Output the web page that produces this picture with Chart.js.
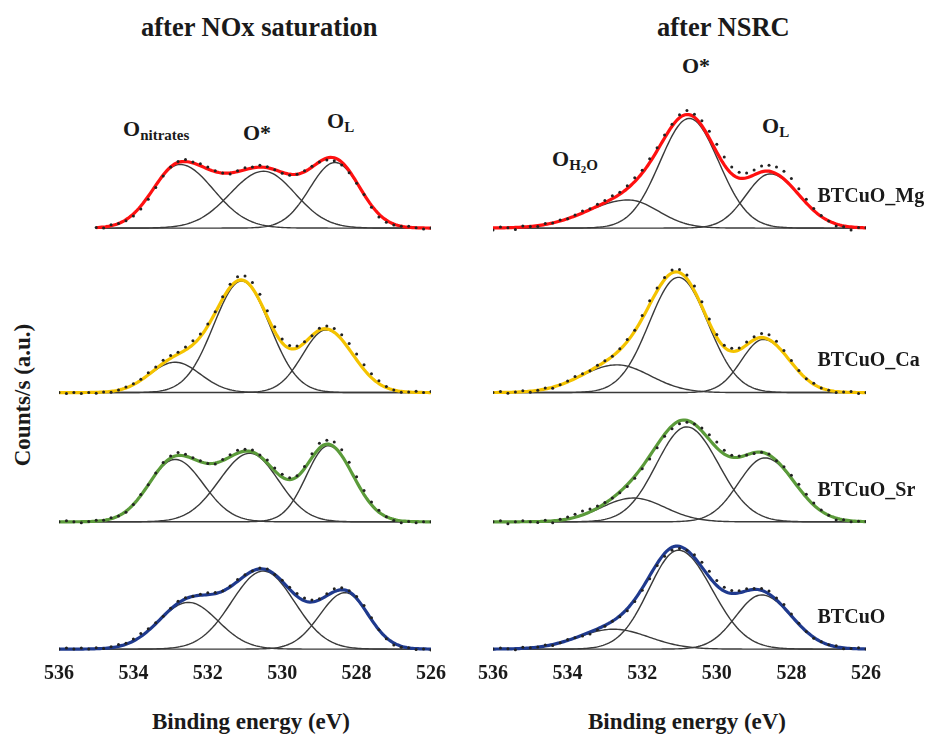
<!DOCTYPE html>
<html>
<head>
<meta charset="utf-8">
<script src="https://cdn.jsdelivr.net/npm/chart.js@4.4.1/dist/chart.umd.min.js"></script>
<style>
  body { margin: 0; width: 933px; height: 740px; background: #fff; position: relative; overflow: hidden;
         font-family: "Liberation Serif", "Times New Roman", serif; font-weight: bold; color: #1a1a1a; }
  canvas { position: absolute; }
  .txt { position: absolute; white-space: nowrap; line-height: 1; }
  .sb { font-size: 15px; position: relative; top: 4px; }
  .sb2 { font-size: 11px; position: relative; top: 3px; }
</style>
</head>
<body>
<div class="txt" style="left:141px;top:14px;font-size:26.5px;">after NOx saturation</div>
<div class="txt" style="left:657px;top:14px;font-size:26.5px;">after NSRC</div>

<div class="txt" style="left:123px;top:118px;font-size:22px;">O<span class="sb">nitrates</span></div>
<div class="txt" style="left:243px;top:122px;font-size:22px;">O*</div>
<div class="txt" style="left:327px;top:110px;font-size:22px;">O<span class="sb">L</span></div>
<div class="txt" style="left:552px;top:148px;font-size:22px;">O<span class="sb">H<span class="sb2">2</span>O</span></div>
<div class="txt" style="left:682px;top:55px;font-size:22px;">O*</div>
<div class="txt" style="left:762px;top:115px;font-size:22px;">O<span class="sb">L</span></div>

<div class="txt" style="left:22px;top:395px;font-size:23px;transform:translate(-50%,-50%) rotate(-90deg);">Counts/s (a.u.)</div>
<div class="txt" style="left:251px;top:721px;font-size:23px;transform:translate(-50%,-50%);">Binding energy (eV)</div>
<div class="txt" style="left:687px;top:721px;font-size:23px;transform:translate(-50%,-50%);">Binding energy (eV)</div>

<canvas id="satChart" width="432" height="607" style="left:29px;top:87px;"></canvas>
<canvas id="nsrcChart" width="470" height="607" style="left:463px;top:87px;"></canvas>

<script>
const energyTicks = [536, 534, 532, 530, 528, 526];
const samples = ['BTCuO_Mg', 'BTCuO_Ca', 'BTCuO_Sr', 'BTCuO'];
const sampleColors = ['#ff1010', '#f4c300', '#5b9b3a', '#1f3a8e'];
const stackOffsets = [430, 262, 130, 0];

// O 1s fit components: [position eV, height, width on high-BE side, width on low-BE side]
const satMg = [[532.75, 65, 0.72, 0.9], [530.5, 58, 0.9, 0.85], [528.58, 67, 0.68, 0.67]];
const satCa = [[532.88, 31, 0.68, 0.68], [531.09, 114, 0.75, 0.75], [528.82, 64, 0.63, 0.72]];
const satSr = [[532.88, 63.7, 0.7, 0.76], [530.87, 70, 0.82, 0.77], [528.76, 77.7, 0.59, 0.67]];
const satBase = [[532.52, 47.7, 0.79, 0.79], [530.51, 79.7, 0.85, 0.84], [528.31, 57.7, 0.68, 0.62]];

const nsrcMg = [[532.37, 28.7, 1.1, 0.8], [530.74, 112, 0.78, 0.79], [528.57, 55.3, 0.65, 0.78]];
const nsrcCa = [[532.68, 28.3, 0.95, 0.9], [531.03, 117.7, 0.78, 0.79], [528.75, 54.3, 0.59, 0.7]];
const nsrcSr = [[532.24, 24.3, 0.85, 0.85], [530.81, 97, 0.81, 0.86], [528.71, 65.3, 0.71, 0.8]];
const nsrcBase = [[532.77, 20.3, 0.95, 0.95], [531.03, 101, 0.79, 0.9], [528.8, 55.3, 0.69, 0.8]];

// first recorded energy of each scan
const satScanStart = [535.0, 536, 536, 536];
const nsrcScanStart = [536, 536, 536, 536];

// measured counts minus fit envelope, one point every 0.2 eV from 536 eV down
const satMgResid = [0,0,0,0,0, 0,-1,1,0,-1, -2,-3,-3,-2,-1, 0,1,2,1,2, 2,1,0,-1,1, 2,1,2,1,0, -1,-1,0,1,1, 0,-2,-3,-3,-2, -1,0,-2,-3,-2, -1,0,1,0,-1,0];
const satCaResid = [0,-1,0,-1,0, -1,0,-1,0,1, 1,1,2,2,3, 3,2,3,4,3, 2,1,2,3,4, 5,6,7,6,5, 4,3,2,1,0, 2,3,4,5,6, 6,5,4,3,1, 0,-1,0,1,0,1];
const satSrResid = [0,1,0,-1,0, 1,0,1,0,-1, 0,1,0,1,2, 2,3,2,1,1, 0,-1,1,2,3, 2,2,1,3,3, 3,2,1,2,4, 5,4,5,6,6, 5,4,3,2,0, -1,-2,0,-1,0,0];
const satBaseResid = [0,1,0,1,0, 1,0,1,2,1, 2,3,2,1,0, 1,2,1,0,1, 2,1,0,1,2, 1,0,1,1,0, 1,2,3,3,2, 1,2,3,2,1, 2,3,2,0,-1, -2,-1,0,-1,0,-1];
const nsrcMgResid = [-2,1,0,-2,1, 0,-1,1,0,1, 0,1,2,1,2, 2,3,2,3,4, 3,4,3,3,2, 3,4,3,5,7, 8,8,7,6,5, 5,6,6,7,8, 8,6,4,2,1, 0,-2,-1,-3,0,0];
const nsrcCaResid = [0,1,-1,0,1, -1,0,1,-1,0, 1,2,1,0,1, 1,0,1,2,1, 3,4,3,2,3, 3,4,5,5,4, 3,2,3,2,3, 3,4,5,4,3, 2,1,0,1,0, 0,-1,0,1,-1,0];
const nsrcSrResid = [0,1,-2,0,1, 0,-1,1,-2,1, 2,3,4,3,2, 1,0,-1,-2,-2, -2,-3,-3,-2,-3, -3,-2,0,3,5, 6,4,2,1,0, -1,0,1,0,2, 3,4,3,2,1, 0,-2,0,-1,0,0];
const nsrcBaseResid = [0,1,0,-1,1, 0,0,1,-1,0, 1,0,-1,-2,-1, -1,0,-1,-2,-2, -2,-3,-2,-3,-3, -2,0,3,5,6, 5,4,3,2,2, 1,2,3,2,3, 2,1,0,-1,0, 0,1,-1,0,1,0];

// asymmetric gaussian line shape of one fit component
function component(p, e) {
  const s = e > p[0] ? p[2] : p[3];
  const d = (e - p[0]) / s;
  return p[1] * Math.exp(-0.5 * d * d);
}

function buildDatasets(peakSets, residSets, starts) {
  const sets = [];
  peakSets.forEach((peaks, k) => {
    const off = stackOffsets[k];
    const grid = [];
    for (let e = starts[k]; e >= 525.999; e -= 0.05) grid.push(+e.toFixed(2));
    const envelope = (e) => off + peaks.reduce((sum, p) => sum + component(p, e), 0);

    peaks.forEach((p) => {
      sets.push({
        data: grid.map((e) => ({ x: e, y: off + component(p, e) })),
        borderColor: '#3a3a3a', borderWidth: 1.4, pointRadius: 0, order: 3,
      });
    });
    sets.push({
      data: grid.map((e) => ({ x: e, y: envelope(e) })),
      borderColor: sampleColors[k], borderWidth: 3.2, pointRadius: 0, order: 2,
    });
    const pts = [];
    residSets[k].forEach((r, i) => {
      const e = +(536 - 0.2 * i).toFixed(2);
      if (e <= starts[k] + 1e-6) pts.push({ x: e, y: envelope(e) + r });
    });
    sets.push({
      data: pts, showLine: false, pointRadius: 1.5, pointBorderWidth: 0,
      pointBackgroundColor: '#222', order: 1,
    });
  });
  return sets;
}

const sampleLabels = {
  id: 'sampleLabels',
  afterDatasetsDraw(chart) {
    const { ctx, scales: { x, y } } = chart;
    ctx.save();
    ctx.font = 'bold 20px "Liberation Serif"';
    ctx.fillStyle = '#1a1a1a';
    ctx.textBaseline = 'middle';
    samples.forEach((s, k) => {
      ctx.fillText(s, x.getPixelForValue(527.3), y.getPixelForValue(stackOffsets[k] + 32));
    });
    ctx.restore();
  },
};

function makeChart(id, datasets, padRight, extra) {
  return new Chart(document.getElementById(id), {
    type: 'line',
    data: { datasets },
    options: {
      responsive: false,
      animation: false,
      events: [],
      layout: { padding: { left: 30, right: padRight, top: 0, bottom: 0 } },
      plugins: { legend: { display: false }, tooltip: { enabled: false } },
      scales: {
        x: {
          type: 'linear', reverse: true, min: 526, max: 536,
          afterBuildTicks: (scale) => { scale.ticks = energyTicks.map((v) => ({ value: v })); },
          grid: { display: false, drawTicks: false },
          border: { display: false },
          ticks: {
            padding: 8, color: '#1a1a1a', maxRotation: 0, autoSkip: false,
            font: { family: 'Liberation Serif', weight: 'bold', size: 20 },
          },
        },
        y: { display: false, min: -5, max: 570 },
      },
    },
    plugins: extra,
  });
}

makeChart('satChart',
  buildDatasets([satMg, satCa, satSr, satBase], [satMgResid, satCaResid, satSrResid, satBaseResid], satScanStart),
  30, []);
makeChart('nsrcChart',
  buildDatasets([nsrcMg, nsrcCa, nsrcSr, nsrcBase], [nsrcMgResid, nsrcCaResid, nsrcSrResid, nsrcBaseResid], nsrcScanStart),
  67, [sampleLabels]);
</script>
</body>
</html>
